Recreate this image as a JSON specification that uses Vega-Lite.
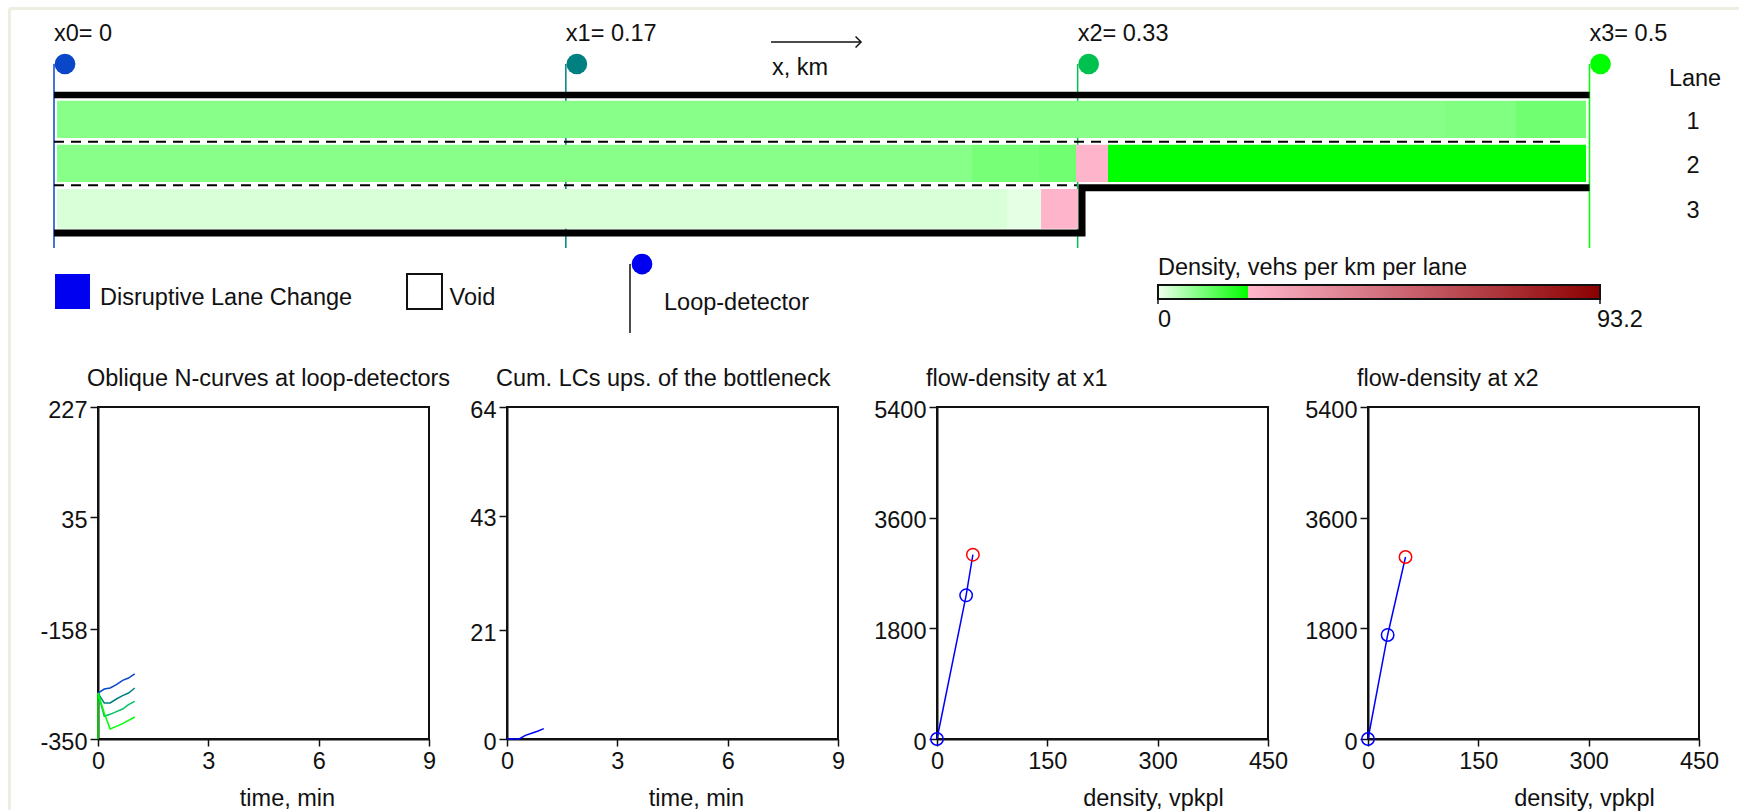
{"$schema":"https://vega.github.io/schema/vega-lite/v6.json","padding":0,"autosize":{"type":"pad"},"background":"white","bounds":"flush","spacing":0,
"config":{"font":"Liberation Sans","view":{"stroke":null},"concat":{"spacing":0},"axis":{"grid":false,"domainColor":"#111111","domainWidth":2,"tickColor":"#111111","tickWidth":1.5,"labelColor":"#111111","titleColor":"#111111","labelFont":"Liberation Sans","titleFont":"Liberation Sans","labelFontSize":23.5,"titleFontSize":23.5,"titleFontWeight":"normal","labelOverlap":false,"labelFlush":false,"labelBound":false},"title":{"font":"Liberation Sans","fontSize":23.5,"fontWeight":"normal","color":"#111111","anchor":"start","frame":"group","dx":-11,"offset":8}},
"vconcat":[
{"width":1739,"height":407,
"encoding":{"x":{"field":"x","type":"quantitative","axis":null,"scale":{"domain":[-0.017584,0.548681],"nice":false,"zero":false}},"y":{"field":"y","type":"quantitative","axis":null,"scale":{"domain":[7.5386,-1.7114],"nice":false,"zero":false}}},
"layer":[
{"data":{"values":[{"x":-0.01449,"x2":0.548681,"y":-1.518,"y2":-1.518},{"x":-0.01449,"x2":-0.01449,"y":-1.518,"y2":16.7}]},"mark":{"type":"rule","color":"#EEEDE2","strokeWidth":3},"encoding":{"x2":{"field":"x2"},"y2":{"field":"y2"}}},
{"data":{"name":"detectors","values":[{"detector":"x0","label":"x0= 0","x":0,"y":-0.2568,"y2":3.925,"ty":-0.9386},{"detector":"x1","label":"x1= 0.17","x":0.16667,"y":-0.2568,"y2":3.925,"ty":-0.9386},{"detector":"x2","label":"x2= 0.33","x":0.33333,"y":-0.2568,"y2":3.925,"ty":-0.9386},{"detector":"x3","label":"x3= 0.5","x":0.5,"y":-0.2568,"y2":3.925,"ty":-0.9386}]},
"mark":{"type":"rule","strokeWidth":1.5},"encoding":{"y2":{"field":"y2"},"stroke":{"field":"detector","type":"nominal","legend":null,"scale":{"domain":["x0","x1","x2","x3"],"range":["#0A46C8","#008080","#00C050","#00FF00"]}}}},
{"data":{"name":"detectors"},"mark":{"type":"point","filled":true,"opacity":1,"size":430,"xOffset":11},"encoding":{"fill":{"field":"detector","type":"nominal","legend":null,"scale":{"domain":["x0","x1","x2","x3"],"range":["#0A46C8","#008080","#00C050","#00FF00"]}}}},
{"data":{"name":"detectors"},"mark":{"type":"text","align":"left","baseline":"middle","fontSize":23.5,"color":"#111111"},"encoding":{"y":{"field":"ty","type":"quantitative"},"text":{"field":"label"}}},
{"data":{"values":[
{"x":0.00098,"x2":0.45327,"y":0.5773,"y2":1.425,"density":8.19},
{"x":0.45327,"x2":0.47607,"y":0.5773,"y2":1.425,"density":8.82},
{"x":0.47607,"x2":0.49886,"y":0.5773,"y2":1.425,"density":10.1},
{"x":0.00098,"x2":0.29893,"y":1.577,"y2":2.425,"density":8.19},
{"x":0.29893,"x2":0.32074,"y":1.577,"y2":2.425,"density":9.46},
{"x":0.32074,"x2":0.33279,"y":1.577,"y2":2.425,"density":10.1},
{"x":0.33279,"x2":0.34321,"y":1.577,"y2":2.425,"density":19.5},
{"x":0.34321,"x2":0.49886,"y":1.577,"y2":2.425,"density":19},
{"x":0.00098,"x2":0.31032,"y":2.584,"y2":3.486,"density":1.83},
{"x":0.31032,"x2":0.3214,"y":2.584,"y2":3.486,"density":0.87},
{"x":0.3214,"x2":0.33344,"y":2.584,"y2":3.486,"density":19.5}]},
"mark":{"type":"rect"},"encoding":{"x2":{"field":"x2"},"y2":{"field":"y2"},"color":{"field":"density","type":"quantitative","legend":null,"scale":{"domain":[0,19,19.01,93.2],"range":["#EFFFEF","#00FF00","#FFB6CC","#8B0000"],"interpolate":"rgb","zero":false,"nice":false}}}},
{"data":{"values":[{"x":0,"x2":0.4919,"y":1.509},{"x":0,"x2":0.3331,"y":2.5}]},"mark":{"type":"rule","color":"black","strokeWidth":2,"strokeDash":[10,7]},"encoding":{"x2":{"field":"x2"}}},
{"data":{"values":[{"x":0,"x2":0.5,"y":0.4477}]},"mark":{"type":"rule","color":"black","strokeWidth":6.5},"encoding":{"x2":{"field":"x2"}}},
{"data":{"values":[{"i":1,"x":0,"y":3.584},{"i":2,"x":0.33475,"y":3.584},{"i":3,"x":0.33475,"y":2.555},{"i":4,"x":0.5,"y":2.555}]},"mark":{"type":"line","color":"black","strokeWidth":7,"strokeJoin":"miter"},"encoding":{"order":{"field":"i","type":"ordinal"}}},
{"data":{"values":[{"x":0.00033,"x2":0.01172,"y":4.516,"y2":5.311}]},"mark":{"type":"rect","color":"#0000F0"},"encoding":{"x2":{"field":"x2"},"y2":{"field":"y2"}}},
{"data":{"values":[{"x":0.11495,"x2":0.12634,"y":4.516,"y2":5.311}]},"mark":{"type":"rect","fill":"white","stroke":"#111111","strokeWidth":2},"encoding":{"x2":{"field":"x2"},"y2":{"field":"y2"}}},
{"data":{"values":[{"x":0.18756,"y":4.289,"y2":5.857}]},"mark":{"type":"rule","color":"#111111","strokeWidth":1.5},"encoding":{"y2":{"field":"y2"}}},
{"data":{"values":[{"x":0.18756,"y":4.289}]},"mark":{"type":"point","filled":true,"opacity":1,"size":430,"xOffset":12,"color":"#0000F0"}},
{"data":{"values":[{"x":0.23348,"x2":0.26279,"y":-0.757}]},"mark":{"type":"rule","color":"#111111","strokeWidth":1.5},"encoding":{"x2":{"field":"x2"}}},
{"data":{"values":[{"x":0.26279,"y":-0.757}]},"mark":{"type":"point","shape":"M-1,-1L0,0L-1,1","filled":false,"opacity":1,"size":120,"color":"#111111","strokeWidth":1.5}},
{"data":{"values":[{"x":0.35949,"x2":0.50342,"y":4.766,"y2":5.084}]},"mark":{"type":"rect","fill":{"gradient":"linear","x1":0,"x2":1,"y1":0,"y2":0,"stops":[{"offset":0,"color":"#EFFFEF"},{"offset":0.2035,"color":"#00FF00"},{"offset":0.2036,"color":"#FFB6CC"},{"offset":1,"color":"#8B0000"}]},"stroke":"#111111","strokeWidth":2},"encoding":{"x2":{"field":"x2"},"y2":{"field":"y2"}}},
{"data":{"values":[{"x":0.35949,"y":5.084,"y2":5.2},{"x":0.50342,"y":5.084,"y2":5.2}]},"mark":{"type":"rule","color":"#111111","strokeWidth":1.5},"encoding":{"y2":{"field":"y2"}}},
{"data":{"values":[
{"x":0.01498,"y":5.061,"label":"Disruptive Lane Change"},
{"x":0.12879,"y":5.061,"label":"Void"},
{"x":0.19863,"y":5.175,"label":"Loop-detector"},
{"x":0.2338,"y":-0.166,"label":"x, km"},
{"x":0.35949,"y":4.38,"label":"Density, vehs per km per lane"},
{"x":0.35949,"y":5.561,"label":"0"},
{"x":0.50244,"y":5.561,"label":"93.2"}]},
"mark":{"type":"text","align":"left","baseline":"middle","fontSize":23.5,"color":"#111111"},"encoding":{"text":{"field":"label"}}},
{"data":{"values":[
{"x":0.53436,"y":0.0841,"label":"Lane"},
{"x":0.53371,"y":1.061,"label":"1"},
{"x":0.53371,"y":2.061,"label":"2"},
{"x":0.53371,"y":3.084,"label":"3"}]},
"mark":{"type":"text","align":"center","baseline":"middle","fontSize":23.5,"color":"#111111"},"encoding":{"text":{"field":"label"}}}
]},
{"bounds":"flush","spacing":0,"hconcat":[
{"width":98,"height":332,"data":{"values":[{}]},"mark":{"type":"point","opacity":0},"encoding":{}},
{"width":331,"height":332,"view":{"stroke":"#111111","strokeWidth":2},"title":"Oblique N-curves at loop-detectors",
"data":{"values":[
{"t":0,"N":-270.1,"s":"x0"},{"t":0.17,"N":-263.1,"s":"x0"},{"t":0.33,"N":-261.4,"s":"x0"},{"t":0.5,"N":-255.6,"s":"x0"},{"t":0.67,"N":-248,"s":"x0"},{"t":0.83,"N":-244,"s":"x0"},{"t":1,"N":-237,"s":"x0"},
{"t":0,"N":-270.1,"s":"x1"},{"t":0.17,"N":-287.4,"s":"x1"},{"t":0.33,"N":-287.4,"s":"x1"},{"t":0.5,"N":-280.5,"s":"x1"},{"t":0.67,"N":-274.7,"s":"x1"},{"t":0.83,"N":-270.1,"s":"x1"},{"t":1,"N":-261.4,"s":"x1"},
{"t":0,"N":-270.1,"s":"x2"},{"t":0.17,"N":-310.6,"s":"x2"},{"t":0.33,"N":-307.1,"s":"x2"},{"t":0.5,"N":-302.5,"s":"x2"},{"t":0.67,"N":-297.9,"s":"x2"},{"t":0.83,"N":-290.3,"s":"x2"},{"t":1,"N":-284.5,"s":"x2"},
{"t":0,"N":-350,"s":"x3","o":0},{"t":0,"N":-270.1,"s":"x3","o":1},{"t":0.17,"N":-304.8,"s":"x3","o":2},{"t":0.33,"N":-332.6,"s":"x3","o":3},{"t":0.5,"N":-328,"s":"x3","o":4},{"t":0.67,"N":-323.4,"s":"x3","o":5},{"t":0.83,"N":-317.6,"s":"x3","o":6},{"t":1,"N":-311.8,"s":"x3","o":7}]},
"mark":{"type":"line","strokeWidth":1.5},
"encoding":{"order":{"field":"o","type":"quantitative"},"x":{"field":"t","type":"quantitative","scale":{"domain":[0,9],"nice":false},"axis":{"values":[0,3,6,9],"title":"time, min","titleX":189,"titleY":66,"titleBaseline":"alphabetic","tickSize":7,"labelPadding":3,"labelExpr":"''+datum.value"}},"y":{"field":"N","type":"quantitative","scale":{"domain":[-350,227],"nice":false,"zero":false},"axis":{"values":[-350,-158,35,227],"title":null,"tickSize":8,"labelPadding":3,"labelOffset":3,"labelExpr":"''+datum.value"}},"color":{"field":"s","type":"nominal","legend":null,"scale":{"domain":["x0","x1","x2","x3"],"range":["#0A46C8","#008080","#00C060","#00FF00"]}}}},
{"width":78,"height":332,"data":{"values":[{}]},"mark":{"type":"point","opacity":0},"encoding":{}},
{"width":331,"height":332,"view":{"stroke":"#111111","strokeWidth":2},"title":"Cum. LCs ups. of the bottleneck",
"data":{"values":[{"t":0,"n":0},{"t":0.17,"n":0},{"t":0.33,"n":0},{"t":0.5,"n":0.7},{"t":0.67,"n":1.1},{"t":0.83,"n":1.5},{"t":1,"n":2}]},
"mark":{"type":"line","strokeWidth":1.5,"color":"#0000FF"},
"encoding":{"x":{"field":"t","type":"quantitative","scale":{"domain":[0,9],"nice":false},"axis":{"values":[0,3,6,9],"title":"time, min","titleX":189,"titleY":66,"titleBaseline":"alphabetic","tickSize":7,"labelPadding":3,"labelExpr":"''+datum.value"}},"y":{"field":"n","type":"quantitative","scale":{"domain":[0,64],"nice":false},"axis":{"values":[0,21,43,64],"title":null,"tickSize":8,"labelPadding":3,"labelOffset":3,"labelExpr":"''+datum.value"}}}},
{"width":99,"height":332,"data":{"values":[{}]},"mark":{"type":"point","opacity":0},"encoding":{}},
{"width":331,"height":332,"view":{"stroke":"#111111","strokeWidth":2},"title":"flow-density at x1",
"data":{"values":[{"k":0,"q":0,"state":"past"},{"k":39.6,"q":2337,"state":"past"},{"k":48.8,"q":2998,"state":"current"}]},
"encoding":{"x":{"field":"k","type":"quantitative","scale":{"domain":[0,450],"nice":false},"axis":{"values":[0,150,300,450],"title":"density, vpkpl","titleX":216,"titleY":66,"titleBaseline":"alphabetic","tickSize":7,"labelPadding":3,"labelExpr":"''+datum.value"}},"y":{"field":"q","type":"quantitative","scale":{"domain":[0,5400],"nice":false},"axis":{"values":[0,1800,3600,5400],"title":null,"tickSize":8,"labelPadding":3,"labelOffset":3,"labelExpr":"''+datum.value"}}},
"layer":[{"mark":{"type":"line","strokeWidth":1.5,"color":"#0000FF"}},{"transform":[{"filter":"datum.state === 'past'"}],"mark":{"type":"point","filled":false,"opacity":1,"size":154,"strokeWidth":1.5,"color":"#0000FF"}},{"transform":[{"filter":"datum.state === 'current'"}],"mark":{"type":"point","filled":false,"opacity":1,"size":154,"strokeWidth":1.5,"color":"#FF0000"}}]},
{"width":100,"height":332,"data":{"values":[{}]},"mark":{"type":"point","opacity":0},"encoding":{}},
{"width":331,"height":332,"view":{"stroke":"#111111","strokeWidth":2},"title":"flow-density at x2",
"data":{"values":[{"k":0,"q":0,"state":"past"},{"k":26.7,"q":1692,"state":"past"},{"k":51,"q":2960,"state":"current"}]},
"encoding":{"x":{"field":"k","type":"quantitative","scale":{"domain":[0,450],"nice":false},"axis":{"values":[0,150,300,450],"title":"density, vpkpl","titleX":216,"titleY":66,"titleBaseline":"alphabetic","tickSize":7,"labelPadding":3,"labelExpr":"''+datum.value"}},"y":{"field":"q","type":"quantitative","scale":{"domain":[0,5400],"nice":false},"axis":{"values":[0,1800,3600,5400],"title":null,"tickSize":8,"labelPadding":3,"labelOffset":3,"labelExpr":"''+datum.value"}}},
"layer":[{"mark":{"type":"line","strokeWidth":1.5,"color":"#0000FF"}},{"transform":[{"filter":"datum.state === 'past'"}],"mark":{"type":"point","filled":false,"opacity":1,"size":154,"strokeWidth":1.5,"color":"#0000FF"}},{"transform":[{"filter":"datum.state === 'current'"}],"mark":{"type":"point","filled":false,"opacity":1,"size":154,"strokeWidth":1.5,"color":"#FF0000"}}]}
]}
]}
